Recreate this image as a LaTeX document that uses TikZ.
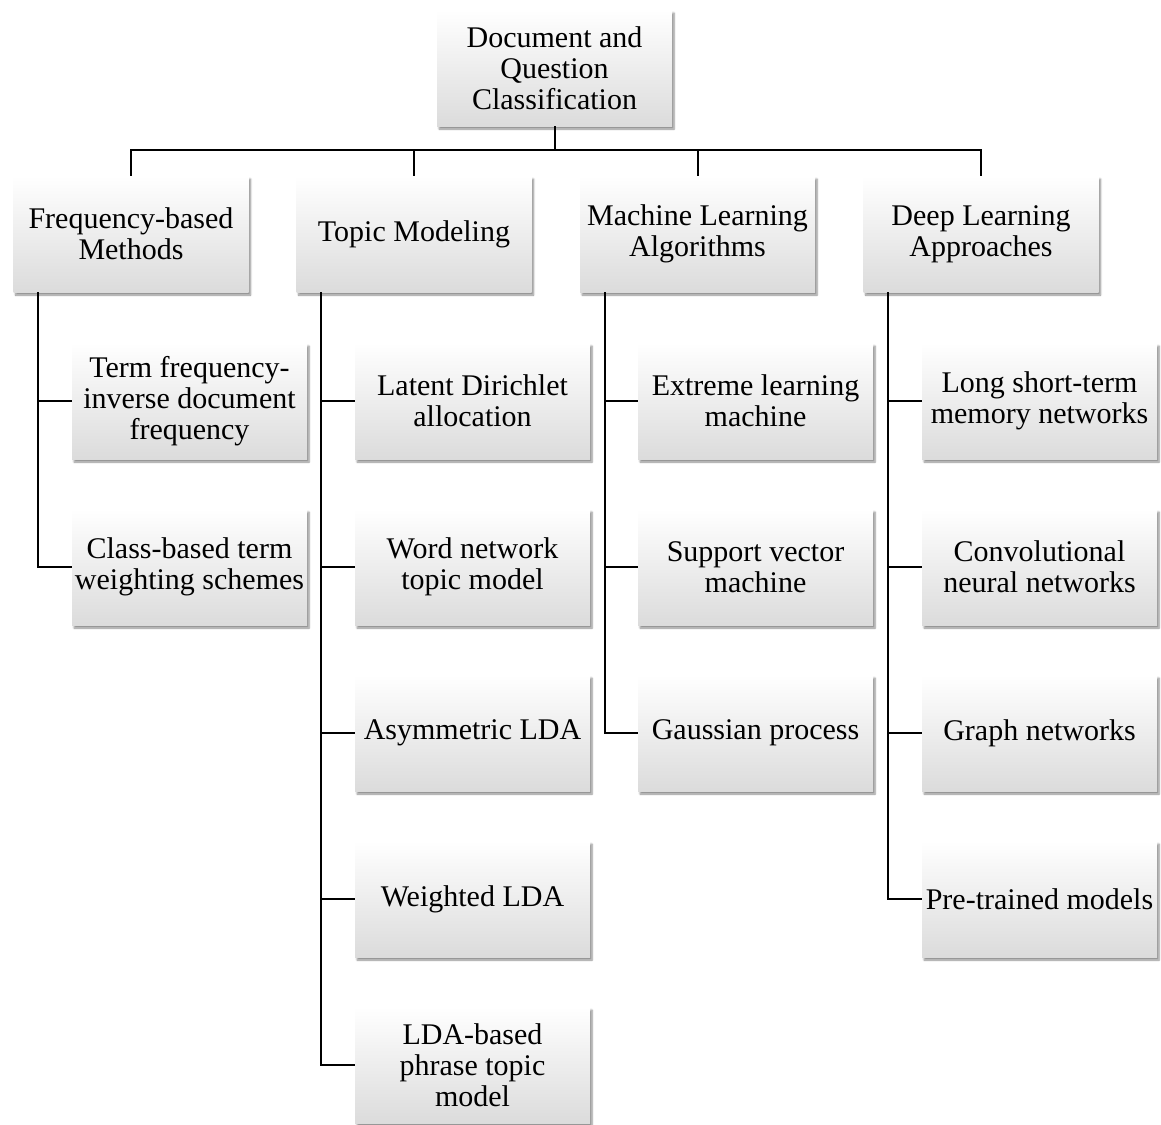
\documentclass[tikz,border=0pt]{standalone}
\usepackage{fontspec}
\setmainfont{Liberation Serif}
\usetikzlibrary{shadows.blur}
\begin{document}
\begin{tikzpicture}[x=1pt,y=-1pt,
  box/.style={minimum width=235pt,minimum height=116pt,inner sep=0pt,
    align=center,top color=white,bottom color=black!14,
    blur shadow={shadow xshift=2pt,shadow yshift=-3pt,shadow blur steps=6,shadow opacity=45},
    font=\fontsize{30}{31}\selectfont},
  link/.style={line width=2pt,black}]
\useasboundingbox (0,0) rectangle (1161,1124);
% root
\node[box] (root) at (554.5,68) {Document and\\Question\\Classification};
% categories
\node[box] (freq) at (131,234) {Frequency-based\\Methods};
\node[box] (topic) at (414,234) {Topic Modeling};
\node[box] (ml) at (697.5,234) {Machine Learning\\Algorithms};
\node[box] (dl) at (981,234) {Deep Learning\\Approaches};
% frequency-based
\node[box] (tfidf) at (189.5,401) {Term frequency-\\inverse document\\frequency};
\node[box] (cbtw) at (189.5,567) {Class-based term\\weighting schemes};
% topic modeling
\node[box] (lda) at (472.5,401) {Latent Dirichlet\\allocation};
\node[box] (wntm) at (472.5,567) {Word network\\topic model};
\node[box] (alda) at (472.5,733) {Asymmetric LDA};
\node[box] (wlda) at (472.5,899) {Weighted LDA};
\node[box] (lptm) at (472.5,1065) {LDA-based\\phrase topic\\model};
% machine learning
\node[box] (elm) at (755.5,401) {Extreme learning\\machine};
\node[box] (svm) at (755.5,567) {Support vector\\machine};
\node[box] (gp) at (755.5,733) {Gaussian process};
% deep learning
\node[box] (lstm) at (1039.5,401) {Long short-term\\memory networks};
\node[box] (cnn) at (1039.5,567) {Convolutional\\neural networks};
\node[box] (gn) at (1039.5,733) {Graph networks};
\node[box] (ptm) at (1039.5,899) {Pre-trained models};
% top-level bus
\coordinate (bus) at (554.5,150);
\draw[link] (root.south) -- (bus);
\draw[link] (freq.north) -- (freq.north |- bus) -- (dl.north |- bus) -- (dl.north);
\draw[link] (topic.north) -- (topic.north |- bus);
\draw[link] (ml.north) -- (ml.north |- bus);
% trunks
\coordinate (tf) at (38,292);
\coordinate (tt) at (321,292);
\coordinate (tm) at (605,292);
\coordinate (td) at (888,292);
\draw[link] (tf) -- (tf |- cbtw.west) -- (cbtw.west);
\draw[link] (tf |- tfidf.west) -- (tfidf.west);
\draw[link] (tt) -- (tt |- lptm.west) -- (lptm.west);
\foreach \n in {lda,wntm,alda,wlda} \draw[link] (tt |- \n.west) -- (\n.west);
\draw[link] (tm) -- (tm |- gp.west) -- (gp.west);
\foreach \n in {elm,svm} \draw[link] (tm |- \n.west) -- (\n.west);
\draw[link] (td) -- (td |- ptm.west) -- (ptm.west);
\foreach \n in {lstm,cnn,gn} \draw[link] (td |- \n.west) -- (\n.west);
\end{tikzpicture}
\end{document}
